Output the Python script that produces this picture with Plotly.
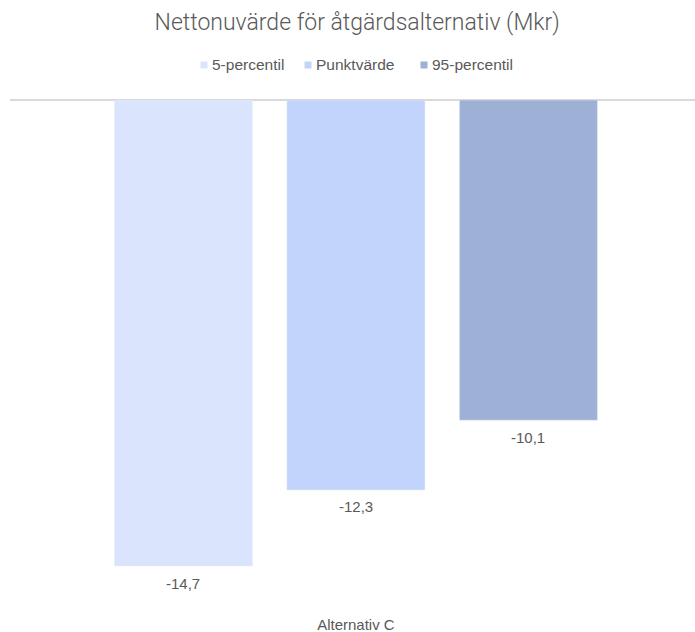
import plotly.graph_objects as go

categories = ["Alternativ C"]
series_names = ["5-percentil", "Punktvärde", "95-percentil"]
series_values = [[-14.7], [-12.3], [-10.1]]
colors = ["#DAE4FC", "#C2D4FB", "#9FB0D6"]

LABEL_FONT = "Liberation Sans"
TXT = "#595959"

# plot-area geometry (pixels) used for the hand-drawn legend
PLOT_L, PLOT_W, PLOT_B, PLOT_H = 10, 685, 600, 500
LEGEND_Y = 65
legend_marker_px = [204, 308, 424]


def px_x(p):
    return (p - PLOT_L) / PLOT_W


def px_y(p):
    return (PLOT_B - p) / PLOT_H


fig = go.Figure()
slot_px = 172.5
for i, (name, vals, col) in enumerate(zip(series_names, series_values, colors)):
    fig.add_trace(go.Bar(
        x=categories, y=vals, name=name, marker_color=col, showlegend=False,
    ))
    for c, v in zip(categories, vals):
        fig.add_annotation(
            x=c, y=v, xref="x", yref="y", text=f"{v:.1f}".replace(".", ","),
            showarrow=False, xshift=(i - 1) * slot_px, yshift=-17,
            yanchor="middle", xanchor="center",
            font=dict(size=15, color=TXT, family=LABEL_FONT),
        )
    # legend entry
    m = legend_marker_px[i]
    fig.add_shape(type="rect", xref="paper", yref="paper",
                  x0=px_x(m - 3.5), x1=px_x(m + 3.5),
                  y0=px_y(LEGEND_Y + 3.5), y1=px_y(LEGEND_Y - 3.5),
                  fillcolor=col, line_width=0)
    fig.add_annotation(x=px_x(m + 6), y=px_y(LEGEND_Y), xref="paper", yref="paper",
                       text=name, showarrow=False, xanchor="left", yanchor="middle",
                       font=dict(size=15.5, color=TXT, family=LABEL_FONT))

fig.update_layout(
    width=695, height=632,
    margin=dict(l=10, r=0, t=100, b=32),
    paper_bgcolor="white", plot_bgcolor="white",
    barmode="group", bargap=0.2445, bargroupgap=0.2,
    title=dict(text="Nettonuvärde för åtgärdsalternativ (Mkr)", x=0.514, xanchor="center",
               y=0.965, yanchor="middle",
               font=dict(size=23, color=TXT, family="Roboto", weight=300)),
    font=dict(family=LABEL_FONT, color=TXT),
    showlegend=False,
)
fig.update_xaxes(range=[-0.505, 0.495], showgrid=False, showline=False, ticks="",
                 tickfont=dict(size=15, color=TXT, family=LABEL_FONT), ticklabelstandoff=14)
fig.update_yaxes(range=[-15.77, 0], showgrid=False, showticklabels=False,
                 zeroline=True, zerolinecolor="#D9D9D9", zerolinewidth=2, showline=False)

fig.write_html("out.html")
